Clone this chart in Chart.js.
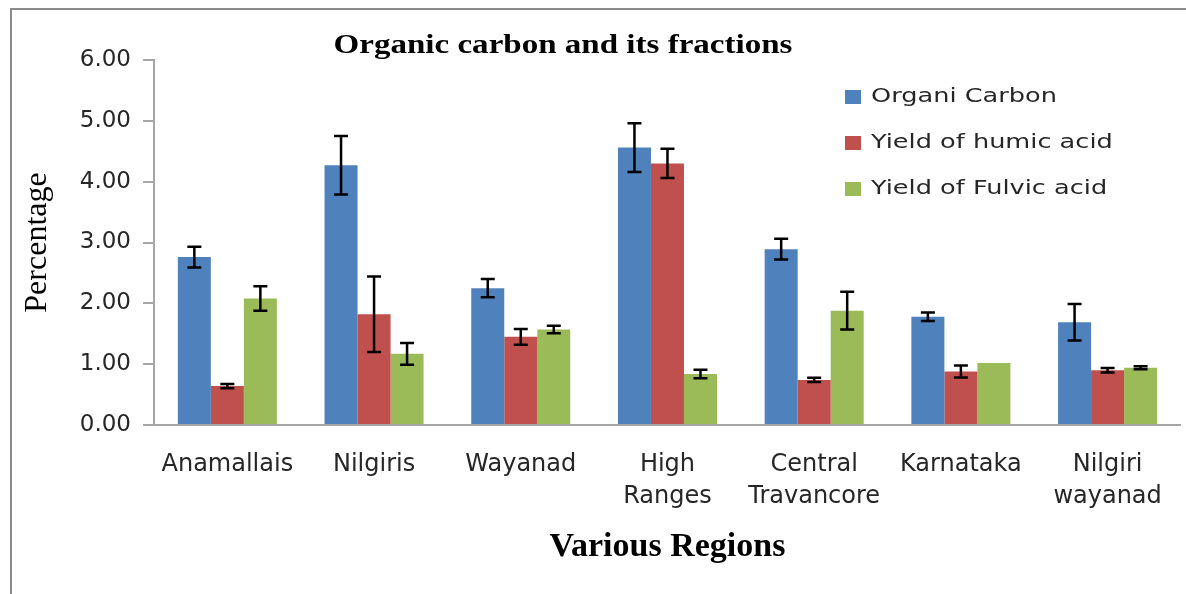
<!DOCTYPE html>
<html>
<head>
<meta charset="utf-8">
<script src="https://cdn.jsdelivr.net/npm/chart.js@4.4.1/dist/chart.umd.min.js"></script>
<style>
  html, body { margin: 0; padding: 0; background: #fff; }
  #wrap { width: 1186px; height: 594px; }
</style>
</head>
<body>
<div id="wrap"><canvas id="carbonChart"></canvas></div>
<script>
const regions = ['Anamallais', 'Nilgiris', 'Wayanad', ['High', 'Ranges'], ['Central', 'Travancore'], 'Karnataka', ['Nilgiri', 'wayanad']];

const organicCarbon = [2.76, 4.27, 2.25, 4.56, 2.89, 1.78, 1.69];
const organicCarbonErr = [0.17, 0.48, 0.15, 0.40, 0.17, 0.07, 0.30];

const humicAcid = [0.64, 1.82, 1.45, 4.30, 0.74, 0.88, 0.90];
const humicAcidErr = [0.035, 0.62, 0.13, 0.24, 0.035, 0.10, 0.035];

const fulvicAcid = [2.08, 1.17, 1.57, 0.84, 1.88, 1.02, 0.94];
const fulvicAcidErr = [0.20, 0.18, 0.06, 0.07, 0.31, 0, 0.025];

const yTicks = [0, 1, 2, 3, 4, 5, 6];

// draws text stretched horizontally (the original chart's text is wide)
function wideText(ctx, text, x, y, font, color, scaleX, align) {
    ctx.save();
    ctx.font = font;
    ctx.fillStyle = color;
    ctx.textBaseline = 'middle';
    const w = ctx.measureText(text).width * scaleX;
    const left = align === 'center' ? x - w / 2 : x;
    ctx.translate(left, y);
    ctx.scale(scaleX, 1);
    ctx.textAlign = 'left';
    ctx.fillText(text, 0, 0);
    ctx.restore();
}

const errorBars = {
    id: 'errorBars',
    afterDatasetsDraw(chart) {
        const ctx = chart.ctx;
        const y = chart.scales.y;
        ctx.save();
        ctx.strokeStyle = '#000';
        ctx.lineWidth = 2.5;
        chart.data.datasets.forEach((ds, i) => {
            const meta = chart.getDatasetMeta(i);
            meta.data.forEach((bar, j) => {
                const err = ds.errors[j];
                if (!err) return;
                const top = y.getPixelForValue(ds.data[j] + err);
                const bot = y.getPixelForValue(ds.data[j] - err);
                ctx.beginPath();
                ctx.moveTo(bar.x, top);
                ctx.lineTo(bar.x, bot);
                ctx.moveTo(bar.x - 7, top);
                ctx.lineTo(bar.x + 7, top);
                ctx.moveTo(bar.x - 7, bot);
                ctx.lineTo(bar.x + 7, bot);
                ctx.stroke();
            });
        });
        ctx.restore();
    }
};

const decorations = {
    id: 'decorations',
    beforeDraw(chart) {
        const { ctx, width, height } = chart;
        ctx.save();
        ctx.fillStyle = '#fff';
        ctx.fillRect(0, 0, width, height);
        ctx.strokeStyle = '#8c8c8c';
        ctx.lineWidth = 2;
        ctx.beginPath();
        ctx.moveTo(11, height);
        ctx.lineTo(11, 9);
        ctx.lineTo(width, 9);
        ctx.stroke();
        ctx.restore();
    },
    afterDraw(chart) {
        const ctx = chart.ctx;
        wideText(ctx, 'Organic carbon and its fractions', 563, 46, 'bold 28px "Liberation Serif"', '#000', 1.18, 'center');
        chart.data.datasets.forEach((ds, i) => {
            const cy = 97 + i * 46;
            ctx.fillStyle = ds.backgroundColor;
            ctx.fillRect(845, cy - 7, 16, 14);
            wideText(ctx, ds.label, 871, cy, '20px "DejaVu Sans"', '#262626', 1.28, 'left');
        });
    }
};

const ctx = document.getElementById('carbonChart').getContext('2d');

new Chart(ctx, {
    type: 'bar',
    data: {
        labels: regions,
        datasets: [
            { label: 'Organi Carbon', data: organicCarbon, errors: organicCarbonErr, backgroundColor: '#4F81BD' },
            { label: 'Yield of humic acid', data: humicAcid, errors: humicAcidErr, backgroundColor: '#C0504D' },
            { label: 'Yield of Fulvic acid', data: fulvicAcid, errors: fulvicAcidErr, backgroundColor: '#9BBB59' }
        ]
    },
    options: {
        responsive: true,
        maintainAspectRatio: false,
        animation: false,
        layout: { padding: { left: 12, top: 60, right: 3, bottom: 0 } },
        datasets: {
            bar: { categoryPercentage: 0.675, barPercentage: 1.0 }
        },
        plugins: {
            legend: { display: false },
            tooltip: { enabled: false }
        },
        scales: {
            x: {
                grid: { display: true, drawOnChartArea: false, drawTicks: false },
                border: { display: true, color: '#a6a6a6', width: 2 },
                ticks: {
                    color: '#262626',
                    padding: 24,
                    maxRotation: 0,
                    autoSkip: false,
                    font: { family: 'DejaVu Sans', size: 24, lineHeight: 1.33 }
                },
                title: {
                    display: true,
                    text: 'Various Regions',
                    color: '#000',
                    font: { family: 'Liberation Serif', size: 34, weight: 'bold' },
                    padding: { top: 0, bottom: 26 }
                },
                afterFit(scale) { scale.height = 169; }
            },
            y: {
                min: 0,
                max: 6,
                afterBuildTicks(scale) { scale.ticks = yTicks.map(v => ({ value: v })); },
                grid: { display: true, drawOnChartArea: false, drawTicks: true, tickLength: 11, color: '#a6a6a6', lineWidth: 2 },
                border: { display: true, color: '#a6a6a6', width: 2 },
                ticks: {
                    color: '#262626',
                    padding: 12,
                    font: { family: 'DejaVu Sans', size: 23 },
                    callback: v => v.toFixed(2)
                },
                title: {
                    display: true,
                    text: 'Percentage',
                    color: '#000',
                    font: { family: 'Liberation Serif', size: 32 },
                    padding: { top: 6, bottom: 0 }
                },
                afterFit(scale) { scale.width = 142; }
            }
        }
    },
    plugins: [decorations, errorBars]
});
</script>
</body>
</html>
